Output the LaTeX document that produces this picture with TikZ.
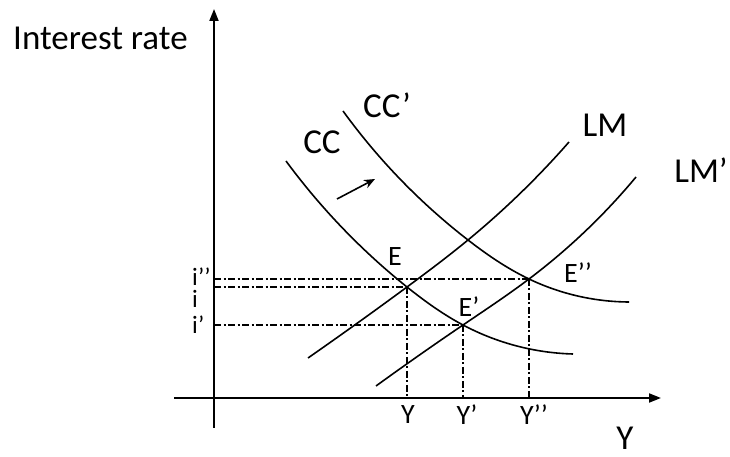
\documentclass[tikz,border=0pt]{standalone}
\usepackage{fontspec}
\setmainfont{Carlito}
\usetikzlibrary{arrows.meta,hobby}
\begin{document}
\begin{tikzpicture}[x=1pt,y=1pt,
  axis/.style={line width=1.8pt,-{Triangle[length=12pt,width=9pt]}},
  curve/.style={line width=1.6pt,use Hobby shortcut},
  guide/.style={line width=1.2pt,dash pattern=on 7pt off 2.5pt on 2pt off 2.5pt},
  big/.style={font=\fontsize{35}{40}\selectfont,inner sep=0pt},
  small/.style={font=\fontsize{28}{32}\selectfont,inner sep=0pt},
  ilabel/.style={font=\fontsize{25}{28}\selectfont,inner sep=0pt,anchor=base west},
  shiftarrow/.style={line width=1.6pt,-{Stealth[length=11pt,width=9pt]}}]
\useasboundingbox (0,0) rectangle (730,457);
% axes
\coordinate (yb) at (214,29);
\coordinate (yt) at (214,448);
\coordinate (xl) at (174,59);
\coordinate (xr) at (661,59);
\draw[axis] (yb) -- (yt);
\draw[axis] (xl) -- (xr);
% key points
\coordinate (E) at (407,170);
\coordinate (Ep) at (463,132);
\coordinate (Epp) at (529,178);
\coordinate (X) at (468,217);
\coordinate (ai2) at (214,178);
\coordinate (ai) at (214,170);
\coordinate (ai1) at (214,132);
\coordinate (ty) at (407,59);
\coordinate (ty1) at (463,59);
\coordinate (ty2) at (529,59);
% guides
\draw[guide] (ai2) -- (Epp);
\draw[guide] (ai) -- (E);
\draw[guide] (ai1) -- (Ep);
\draw[guide] (E) -- (ty);
\draw[guide] (Ep) -- (ty1);
\draw[guide] (Epp) -- (ty2);
% curves
\coordinate (lm0) at (308,99);
\coordinate (lm1) at (569,315);
\coordinate (lmp0) at (376,71);
\coordinate (lmp1) at (636,280);
\coordinate (cc0) at (286,296);
\coordinate (cc1) at (573,103);
\coordinate (ccp0) at (343,346);
\coordinate (ccp1) at (629,155);
\draw[curve] (lm0) .. (E) .. (X) .. (lm1);
\draw[curve] (lmp0) .. (Ep) .. (Epp) .. (lmp1);
\draw[curve] (cc0) .. (E) .. (Ep) .. (cc1);
\draw[curve] (ccp0) .. (X) .. (Epp) .. (ccp1);
% shift arrow
\coordinate (sa0) at (337,258);
\coordinate (sa1) at (375,278);
\draw[shiftarrow] (sa0) -- (sa1);
% labels
\node[big,anchor=west] (lir) at (13,419) {Interest rate};
\node[big] (lcc) at (322,315) {CC};
\node[big] (lccp) at (387,352) {CC’};
\node[big] (llm) at (605,332) {LM};
\node[big] (llmp) at (701,287) {LM’};
\node[big] (lY) at (625,19) {Y};
\node[small] (lE) at (395,200) {E};
\node[small] (lEp) at (469,150) {E’};
\node[small] (lEpp) at (578,184) {E’’};
\node[small] (lY0) at (408,42) {Y};
\node[small] (lY1) at (467,42) {Y’};
\node[small] (lY2) at (534,42) {Y’’};
\node[ilabel] (li2) at (192,171) {i’’};
\node[ilabel] (li) at (192,149) {i};
\node[ilabel] (li1) at (192,123) {i’};
\end{tikzpicture}
\end{document}
